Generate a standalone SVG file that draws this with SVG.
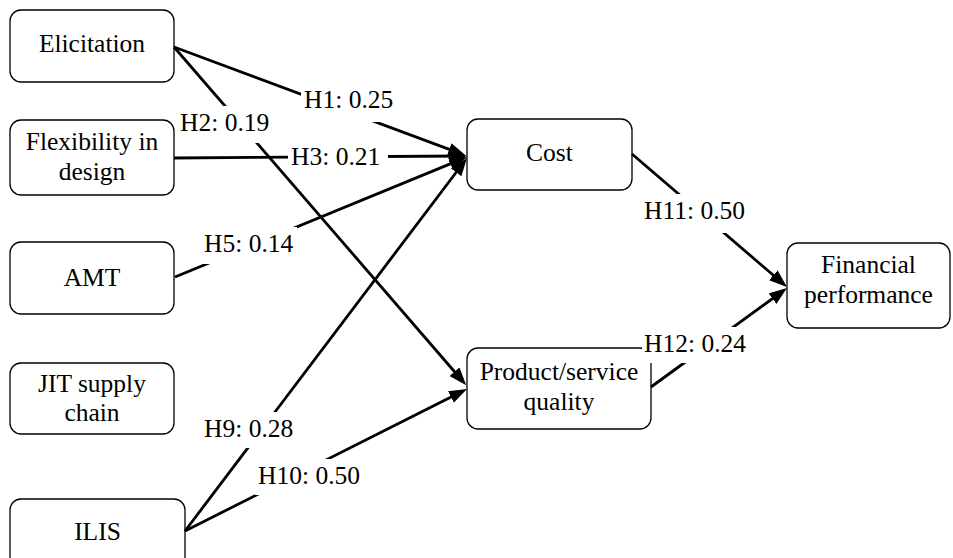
<svg xmlns="http://www.w3.org/2000/svg" width="953" height="558" viewBox="0 0 953 558">
<style>
.box{fill:#fff;stroke:#000;stroke-width:1.3}
.t{font-family:'Liberation Serif','Times New Roman',serif;font-size:25.5px;fill:#000}
.c{text-anchor:middle}
.ln{stroke:#000;stroke-width:2.8;fill:none;marker-end:url(#ah)}
.lb{fill:#fff}
</style>
<defs>
<marker id="ah" markerUnits="userSpaceOnUse" markerWidth="20" markerHeight="14" refX="13" refY="6.5" orient="auto">
<path d="M0,0 L18,6.5 L0,13 z" fill="#000"/>
</marker>
</defs>
<rect width="953" height="558" fill="#fff"/>
<g id="elicitation"><rect class="box" x="10" y="10" width="164" height="72" rx="11"/><text class="t c" x="92" y="52">Elicitation</text></g>
<g id="flexibility"><rect class="box" x="10" y="120" width="164" height="75" rx="11"/><text class="t c" x="92" y="150">Flexibility in</text><text class="t c" x="92" y="180">design</text></g>
<g id="amt"><rect class="box" x="10" y="242" width="164" height="72" rx="11"/><text class="t c" x="92" y="286">AMT</text></g>
<g id="jit"><rect class="box" x="10" y="363" width="164" height="71" rx="11"/><text class="t c" x="92" y="392">JIT supply</text><text class="t c" x="92" y="421">chain</text></g>
<g id="ilis"><rect class="box" x="10" y="499" width="175" height="72" rx="11"/><text class="t c" x="97.5" y="540">ILIS</text></g>
<g id="cost"><rect class="box" x="467" y="119" width="165" height="71" rx="11"/><text class="t c" x="549.5" y="161">Cost</text></g>
<g id="quality"><rect class="box" x="467" y="348" width="184" height="81" rx="11"/><text class="t c" x="559" y="380">Product/service</text><text class="t c" x="559" y="410">quality</text></g>
<g id="financial"><rect class="box" x="787" y="243" width="163" height="85" rx="11"/><text class="t c" x="868.5" y="273">Financial</text><text class="t c" x="868.5" y="303">performance</text></g>
<g id="connectors">
<line class="ln" x1="174" y1="47" x2="461.4" y2="153.9"/>
<line class="ln" x1="174" y1="47" x2="463" y2="381.5"/>
<line class="ln" x1="174" y1="158" x2="462" y2="156"/>
<line class="ln" x1="175" y1="277" x2="462.4" y2="158.9"/>
<line class="ln" x1="185" y1="531" x2="464" y2="162"/>
<line class="ln" x1="185" y1="531" x2="462.5" y2="391.2"/>
<line class="ln" x1="632" y1="154" x2="783.2" y2="283.7"/>
<line class="ln" x1="651" y1="387" x2="783" y2="291"/>
<rect class="lb" x="301" y="84" width="96" height="38"/><text class="t" x="304" y="108">H1: 0.25</text>
<rect class="lb" x="177" y="106" width="96" height="37"/><text class="t" x="180" y="131">H2: 0.19</text>
<rect class="lb" x="288" y="140" width="100" height="37"/><text class="t" x="291" y="165">H3: 0.21</text>
<rect class="lb" x="201" y="227" width="96" height="37"/><text class="t" x="204" y="252">H5: 0.14</text>
<rect class="lb" x="201" y="412" width="96" height="36"/><text class="t" x="204" y="437">H9: 0.28</text>
<rect class="lb" x="255" y="459" width="108" height="36"/><text class="t" x="258" y="484">H10: 0.50</text>
<rect class="lb" x="641" y="194" width="109" height="39"/><text class="t" x="644" y="219">H11: 0.50</text>
<rect class="lb" x="642" y="327" width="108" height="36"/><text class="t" x="644" y="352">H12: 0.24</text>
</g>
</svg>
